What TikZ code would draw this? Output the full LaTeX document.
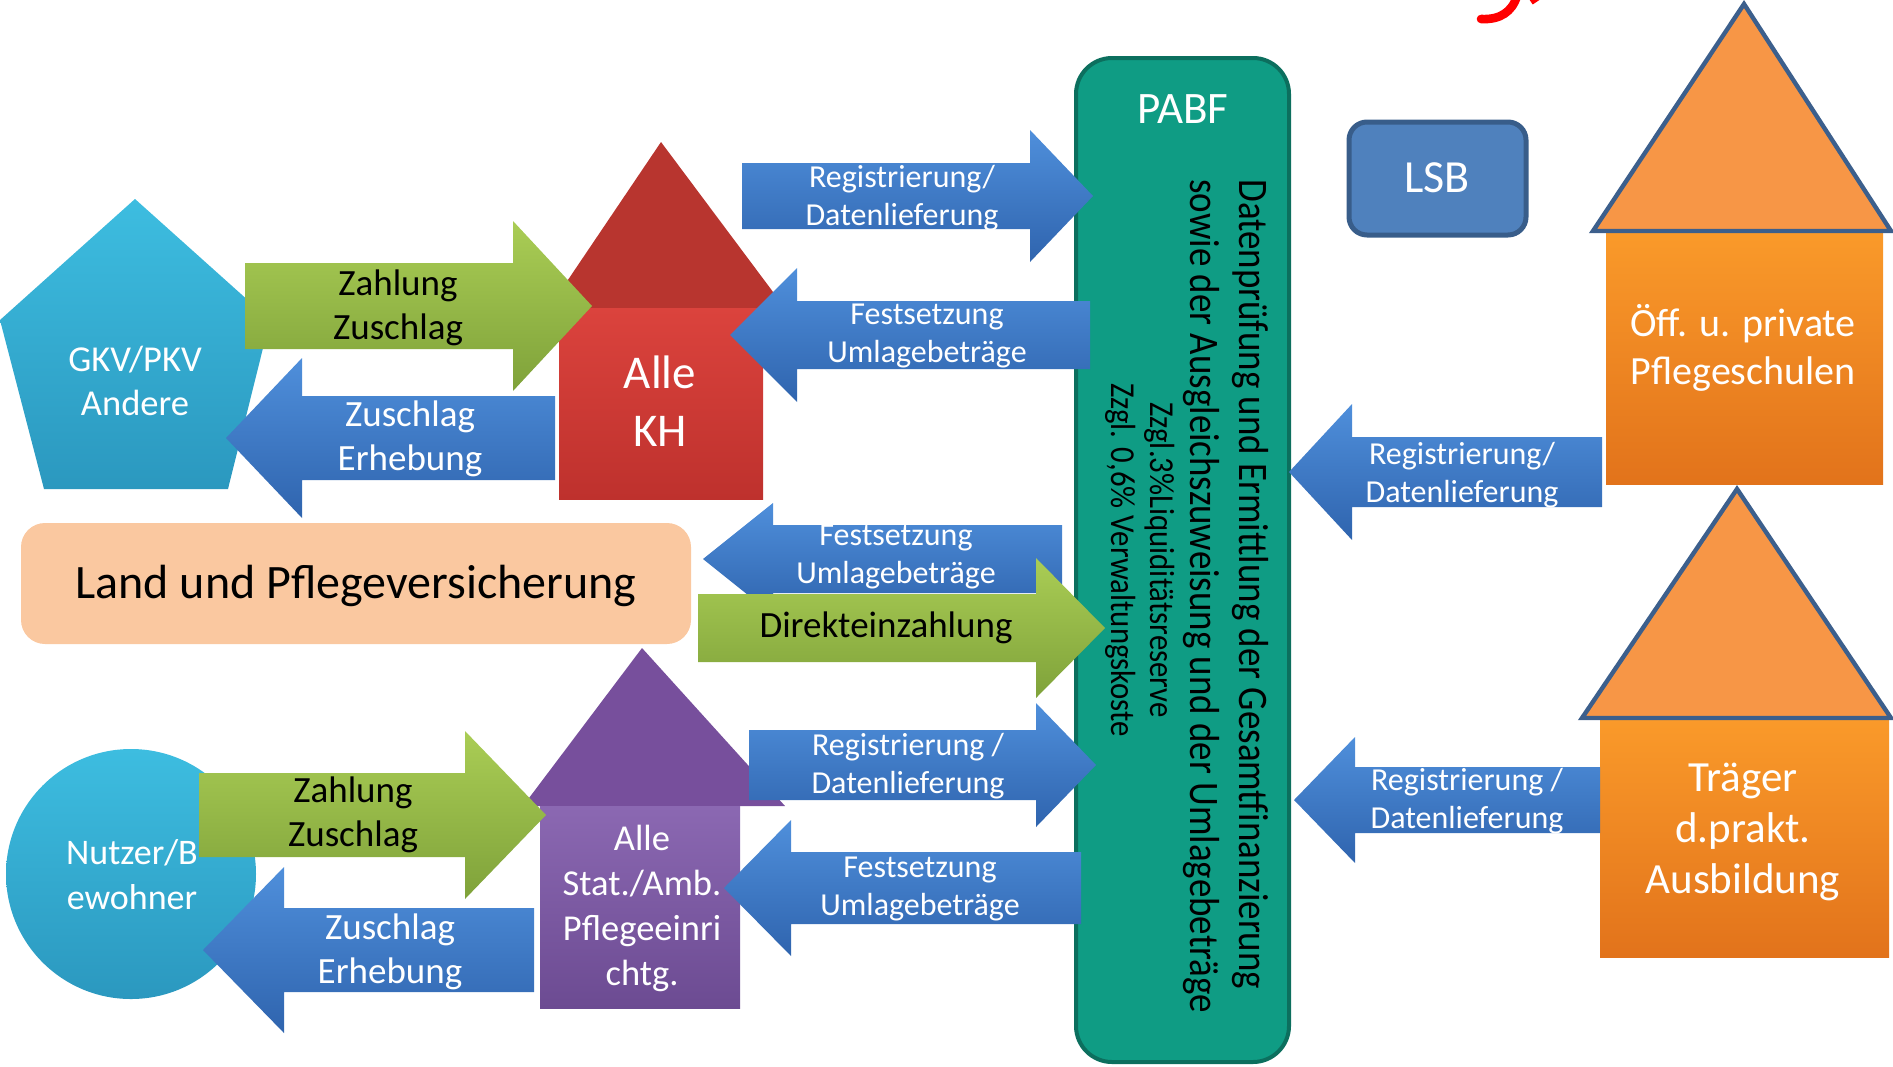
\documentclass[tikz,border=0pt]{standalone}
\usepackage{fontspec}
\setmainfont{Carlito}
\newfontfamily\narrowfont[FakeStretch=0.88]{Carlito}

\definecolor{arrowblueA}{HTML}{4F8FDB}
\definecolor{arrowblueB}{HTML}{2F64AE}
\definecolor{arrowgreenA}{HTML}{AACD55}
\definecolor{arrowgreenB}{HTML}{7FA23A}
\definecolor{cyanA}{HTML}{3DBDE0}
\definecolor{cyanB}{HTML}{2B98BF}
\definecolor{khroof}{HTML}{B8352F}
\definecolor{khA}{HTML}{DB433D}
\definecolor{khB}{HTML}{BE312D}
\definecolor{pflroof}{HTML}{774F9C}
\definecolor{pflA}{HTML}{8B68B2}
\definecolor{pflB}{HTML}{6C4B92}
\definecolor{orangeA}{HTML}{FA9A2A}
\definecolor{orangeB}{HTML}{E2731B}
\definecolor{roof}{HTML}{F79646}
\definecolor{roofblue}{HTML}{3C5F8C}
\definecolor{pabfgreen}{HTML}{0F9C84}
\definecolor{pabfline}{HTML}{0C6F5E}
\definecolor{lsbblue}{HTML}{4F81BD}
\definecolor{lsbline}{HTML}{385D8A}
\definecolor{landpeach}{HTML}{FAC8A0}

% block arrow: style, tail x, head x, tip x, mid y, half body, half head
\newcommand{\blockarrow}[7]{%
  \shade[#1] (#2,{#5-#6}) -- (#3,{#5-#6}) -- (#3,{#5-#7}) -- (#4,#5)
    -- (#3,{#5+#7}) -- (#3,{#5+#6}) -- (#2,{#5+#6}) -- cycle;}

\begin{document}
\begin{tikzpicture}[x=0.5pt, y=-0.5pt,
    bluearrow/.style={top color=arrowblueA, bottom color=arrowblueB},
    greenarrow/.style={top color=arrowgreenA, bottom color=arrowgreenB},
    whitetext/.style={text=white, align=center, inner sep=0pt},
    blacktext/.style={text=black, align=center, inner sep=0pt},
    smalllabel/.style={font=\fontsize{16}{19}\selectfont},
    midlabel/.style={font=\fontsize{18.5}{22}\selectfont},
    roofedge/.style={draw=roofblue, line width=2.2pt}]
\useasboundingbox (0,0) rectangle (1893,1066);

% red mark, cut off at the top
\draw[red, line width=4.3pt, line cap=round] (1481,19) .. controls (1500,20) and (1512,12) .. (1517,-4);
\draw[red, line width=3pt] (1531,2) -- (1540,-4);

% PABF column and LSB
\draw[fill=pabfgreen, draw=pabfline, line width=2pt, rounded corners=18pt] (1076,58) rectangle (1289,1062);
\draw[fill=lsbblue, draw=lsbline, line width=2.5pt, rounded corners=9pt] (1349,122) rectangle (1526,235);

% houses on the right
\shade[top color=orangeA, bottom color=orangeB] (1606,231) rectangle (1883,484);
\fill[roof, roofedge] (1593,231) -- (1744,4) -- (1891,231) -- cycle;
\shade[top color=orangeA, bottom color=orangeB] (1600,718) rectangle (1889,957);
\fill[roof, roofedge] (1582,718) -- (1737,489) -- (1891,718) -- cycle;

% left side shapes
\shade[top color=cyanA, bottom color=cyanB] (135,199) -- (270,320) -- (228,489) -- (44,489) -- (0,320) -- cycle;
\shade[top color=cyanA, bottom color=cyanB] (131,874) circle (125);
\fill[landpeach, rounded corners=12pt] (21,523) rectangle (691,644);
\fill[khroof] (549,308) -- (661,142) -- (785,308) -- cycle;
\shade[top color=khA, bottom color=khB] (559,308) rectangle (763,499);
\fill[pflroof] (523,806) -- (642,648) -- (785,806) -- cycle;
\shade[top color=pflA, bottom color=pflB] (540,806) rectangle (740,1008);

% arrows
\blockarrow{greenarrow}{245}{513}{592}{306}{43}{85}
\blockarrow{bluearrow}{555}{302}{226}{438}{42}{80}
\blockarrow{bluearrow}{742}{1030}{1093}{196}{33}{66}
\blockarrow{bluearrow}{1090}{797}{730}{335}{34}{67}
\blockarrow{bluearrow}{1062}{773}{703}{559}{34}{56}
\node[whitetext, smalllabel] (festLand) at (896,557) {Festsetzung\\Umlagebeträge};
\blockarrow{greenarrow}{698}{1036}{1105}{628}{34}{70}
\blockarrow{greenarrow}{199}{465}{546}{815}{42}{84}
\blockarrow{bluearrow}{534}{284}{203}{950}{42}{83}
\blockarrow{bluearrow}{749}{1036}{1096}{765}{35}{62}
\blockarrow{bluearrow}{1081}{791}{724}{888}{36}{68}
\blockarrow{bluearrow}{1602}{1352}{1289}{472}{35}{68}
\blockarrow{bluearrow}{1600}{1355}{1294}{800}{33}{63}

% texts
\node[whitetext, font=\fontsize{18.25}{22}\selectfont] (gkv) at (135,381) {GKV/PKV\\Andere};
\node[blacktext, midlabel] (zahlungGKV) at (398,308) {Zahlung\\Zuschlag};
\node[whitetext, midlabel] (zuschlagGKV) at (410,439) {Zuschlag\\Erhebung};
\node[whitetext, font=\fontsize{23.5}{29}\selectfont] (kh) at (660,401) {Alle\\KH};
\node[whitetext, smalllabel] (regKH) at (902,198) {Registrierung/\\Datenlieferung};
\node[whitetext, smalllabel] (festKH) at (927,336) {Festsetzung\\Umlagebeträge};
\node[blacktext, font=\fontsize{24}{29}\selectfont] (land) at (356,586) {Land und Pflegeversicherung};
\node[blacktext, midlabel] (direkt) at (886,628) {Direkteinzahlung};
\node[whitetext, font=\fontsize{18}{22.5}\selectfont] (nutzer) at (132,875) {Nutzer/B\\ewohner};
\node[blacktext, midlabel] (zahlungNutzer) at (353,815) {Zahlung\\Zuschlag};
\node[whitetext, midlabel] (zuschlagNutzer) at (390,952) {Zuschlag\\Erhebung};
\node[whitetext, font=\fontsize{18.25}{22.5}\selectfont] (pfl) at (642,908) {Alle\\Stat./Amb.\\Pflegeeinri\\chtg.};
\node[whitetext, smalllabel] (regPfl) at (908,766) {Registrierung /\\Datenlieferung};
\node[whitetext, smalllabel] (festPfl) at (920,889) {Festsetzung\\Umlagebeträge};
\node[whitetext, font=\fontsize{22.5}{27}\selectfont] (pabf) at (1183,109) {PABF};
\node[blacktext, rotate=-90, anchor=west, align=left, font=\narrowfont\fontsize{21}{24.5}\selectfont] (pabfmain) at (1226,179)
  {Datenprüfung und Ermittlung der Gesamtfinanzierung\\sowie der Ausgleichszuweisung und der Umlagebeträge};
\node[blacktext, rotate=-90, font=\narrowfont\fontsize{17.5}{19.5}\selectfont] (pabfnote) at (1140,560)
  {Zzgl.3\%Liquiditätsreserve\\Zzgl. 0,6\% Verwaltungskoste};
\node[whitetext, font=\fontsize{23}{27}\selectfont] (lsb) at (1437,178) {LSB};
\node[whitetext, smalllabel] (regSchule) at (1462,475) {Registrierung/\\Datenlieferung};
\node[whitetext, smalllabel] (regTraeger) at (1467,801) {Registrierung /\\Datenlieferung};
\node[whitetext, font=\fontsize{20}{24}\selectfont] (schule) at (1743,348) {Öff. u. private\\Pflegeschulen};
\node[whitetext, font=\fontsize{21.5}{25.5}\selectfont] (traeger) at (1743,832) {Träger\\d.prakt.\\Ausbildung};
\end{tikzpicture}
\end{document}
